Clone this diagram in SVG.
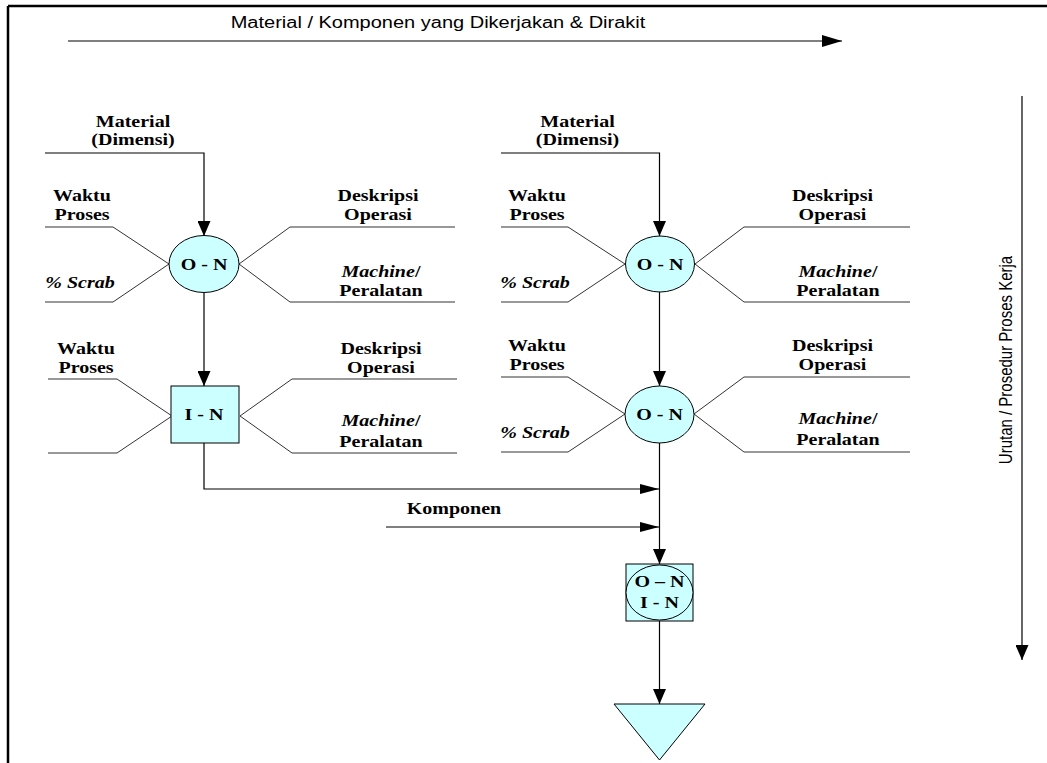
<svg xmlns="http://www.w3.org/2000/svg" width="1047" height="763" viewBox="0 0 1047 763">
  <style>
    .lbl { font-family: "Liberation Serif", "Times New Roman", serif; font-weight: bold; font-size: 16px; fill: #000; text-anchor: middle; }
    .it { font-style: italic; }
    .cap { font-family: "Liberation Sans", Arial, sans-serif; font-size: 16px; fill: #000; text-anchor: middle; }
    .lead { fill: none; stroke: #333; stroke-width: 1; }
    .flow { fill: none; stroke: #000; stroke-width: 1.2; }
    .shape { fill: #CCFFFF; stroke: #000; stroke-width: 1; }
    .frame { stroke: #000; stroke-width: 2.5; }
  </style>
  <defs>
    <marker id="headDown" viewBox="0 0 15 13" refX="15" refY="6.5" markerWidth="15" markerHeight="13" markerUnits="userSpaceOnUse" orient="auto">
      <path d="M0,0 L15,6.5 L0,13 z" fill="#000"/>
    </marker>
    <marker id="headRight" viewBox="0 0 19 10" refX="19" refY="5" markerWidth="19" markerHeight="10" markerUnits="userSpaceOnUse" orient="auto">
      <path d="M0,0 L19,5 L0,10 z" fill="#000"/>
    </marker>
    <marker id="headRightWide" viewBox="0 0 20 12" refX="20" refY="6" markerWidth="20" markerHeight="12" markerUnits="userSpaceOnUse" orient="auto">
      <path d="M0,0 L20,6 L0,12 z" fill="#000"/>
    </marker>
  </defs>

  <rect width="1047" height="763" fill="#fff"/>
  <!-- page frame: only the top and left edges fall inside the view -->
  <line class="frame" x1="8" y1="6" x2="1047" y2="6"/>
  <line class="frame" x1="8" y1="6" x2="8" y2="763"/>

  <!-- axis captions -->
  <text class="cap" transform="translate(438,28) scale(1.25,1)">Material / Komponen yang Dikerjakan &amp; Dirakit</text>
  <text class="cap" style="font-size:15px" transform="translate(1012,360) scale(1.25,1) rotate(-90)">Urutan / Prosedur Proses Kerja</text>

  <!-- leader lines from the attribute labels into each operation -->
  <g id="leaders">
    <polyline class="lead" points="45,227 113,227 169,264"/>
    <polyline class="lead" points="45,302 113,302 169,264"/>
    <polyline class="lead" points="455,227 290,227 239,264"/>
    <polyline class="lead" points="455,302 290,302 239,264"/>

    <polyline class="lead" points="48,379 117,379 172,416"/>
    <polyline class="lead" points="48,453 117,453 172,416"/>
    <polyline class="lead" points="457,379 292,379 240,416"/>
    <polyline class="lead" points="457,453 292,453 240,416"/>

    <polyline class="lead" points="501,227 568,227 625,264"/>
    <polyline class="lead" points="501,302 568,302 625,264"/>
    <polyline class="lead" points="910,227 744,227 695,264"/>
    <polyline class="lead" points="910,302 744,302 695,264"/>

    <polyline class="lead" points="501,377 568,377 625,414"/>
    <polyline class="lead" points="501,452 568,452 625,414"/>
    <polyline class="lead" points="910,377 744,377 694,414"/>
    <polyline class="lead" points="910,452 744,452 694,414"/>
  </g>

  <g id="connectors">
    <line class="flow" x1="68" y1="41" x2="842" y2="41" marker-end="url(#headRightWide)"/>
    <line class="flow" x1="1022" y1="96" x2="1022" y2="660" marker-end="url(#headDown)"/>
    <polyline class="flow" points="45,153 204,153 204,236" marker-end="url(#headDown)"/>
    <line class="flow" x1="204" y1="292.5" x2="204" y2="386" marker-end="url(#headDown)"/>
    <polyline class="flow" points="204,443 204,489 659,489" marker-end="url(#headRight)"/>
    <polyline class="flow" points="501,153 659.5,153 659.5,236" marker-end="url(#headDown)"/>
    <line class="flow" x1="659.5" y1="292" x2="659.5" y2="386" marker-end="url(#headDown)"/>
    <line class="flow" x1="659.5" y1="443" x2="659.5" y2="564" marker-end="url(#headDown)"/>
    <line class="flow" x1="386" y1="527" x2="659" y2="527" marker-end="url(#headRight)"/>
    <line class="flow" x1="659.5" y1="621" x2="659.5" y2="704" marker-end="url(#headDown)"/>
  </g>

  <!-- left branch -->
  <g id="op-left">
    <ellipse class="shape" cx="204" cy="264" rx="35" ry="28.5"/>
    <text class="lbl" transform="translate(204,270) scale(1.25,1)">O - N</text>
  </g>
  <g id="insp-left">
    <rect class="shape" x="171" y="386" width="68" height="57"/>
    <text class="lbl" transform="translate(204,420) scale(1.25,1)">I - N</text>
  </g>

  <!-- right branch -->
  <g id="op-right-1">
    <ellipse class="shape" cx="660" cy="264" rx="34.5" ry="28"/>
    <text class="lbl" transform="translate(660,270) scale(1.25,1)">O - N</text>
  </g>
  <g id="op-right-2">
    <ellipse class="shape" cx="659.5" cy="414.5" rx="34.5" ry="28.5"/>
    <text class="lbl" transform="translate(659.5,420) scale(1.25,1)">O - N</text>
  </g>
  <g id="op-insp">
    <rect class="shape" x="626" y="564" width="67" height="57"/>
    <ellipse class="shape" cx="659.5" cy="592.5" rx="33.5" ry="27.5"/>
    <text class="lbl" transform="translate(659.5,587) scale(1.25,1)">O – N</text>
    <text class="lbl" transform="translate(659.5,608) scale(1.25,1)">I - N</text>
  </g>
  <g id="storage">
    <polygon class="shape" points="614,704 705,704 659.5,760"/>
  </g>

  <!-- attribute labels -->
  <g id="labels">
    <text class="lbl" transform="translate(133,127) scale(1.25,1)"><tspan x="0">Material</tspan><tspan x="0" dy="18">(Dimensi)</tspan></text>
    <text class="lbl" transform="translate(82,201) scale(1.25,1)"><tspan x="0">Waktu</tspan><tspan x="0" dy="19">Proses</tspan></text>
    <text class="lbl it" transform="translate(80,288) scale(1.25,1)">% Scrab</text>
    <text class="lbl" transform="translate(378,201) scale(1.25,1)"><tspan x="0">Deskripsi</tspan><tspan x="0" dy="19">Operasi</tspan></text>
    <text class="lbl" transform="translate(381,277) scale(1.25,1)"><tspan x="0"><tspan class="it">Machine</tspan>/</tspan><tspan x="0" dy="19">Peralatan</tspan></text>

    <text class="lbl" transform="translate(86,354) scale(1.25,1)"><tspan x="0">Waktu</tspan><tspan x="0" dy="19">Proses</tspan></text>
    <text class="lbl" transform="translate(381,354) scale(1.25,1)"><tspan x="0">Deskripsi</tspan><tspan x="0" dy="19">Operasi</tspan></text>
    <text class="lbl" transform="translate(381,426) scale(1.25,1)"><tspan x="0"><tspan class="it">Machine</tspan>/</tspan><tspan x="0" dy="21">Peralatan</tspan></text>

    <text class="lbl" transform="translate(577.5,127) scale(1.25,1)"><tspan x="0">Material</tspan><tspan x="0" dy="18">(Dimensi)</tspan></text>
    <text class="lbl" transform="translate(537,201) scale(1.25,1)"><tspan x="0">Waktu</tspan><tspan x="0" dy="19">Proses</tspan></text>
    <text class="lbl it" transform="translate(535,288) scale(1.25,1)">% Scrab</text>
    <text class="lbl" transform="translate(832.5,201) scale(1.25,1)"><tspan x="0">Deskripsi</tspan><tspan x="0" dy="19">Operasi</tspan></text>
    <text class="lbl" transform="translate(838,277) scale(1.25,1)"><tspan x="0"><tspan class="it">Machine</tspan>/</tspan><tspan x="0" dy="19">Peralatan</tspan></text>

    <text class="lbl" transform="translate(537,351) scale(1.25,1)"><tspan x="0">Waktu</tspan><tspan x="0" dy="19">Proses</tspan></text>
    <text class="lbl it" transform="translate(535,438) scale(1.25,1)">% Scrab</text>
    <text class="lbl" transform="translate(832.5,351) scale(1.25,1)"><tspan x="0">Deskripsi</tspan><tspan x="0" dy="19">Operasi</tspan></text>
    <text class="lbl" transform="translate(838,424) scale(1.25,1)"><tspan x="0"><tspan class="it">Machine</tspan>/</tspan><tspan x="0" dy="21">Peralatan</tspan></text>

    <text class="lbl" transform="translate(454,514) scale(1.25,1)">Komponen</text>
  </g>
</svg>
